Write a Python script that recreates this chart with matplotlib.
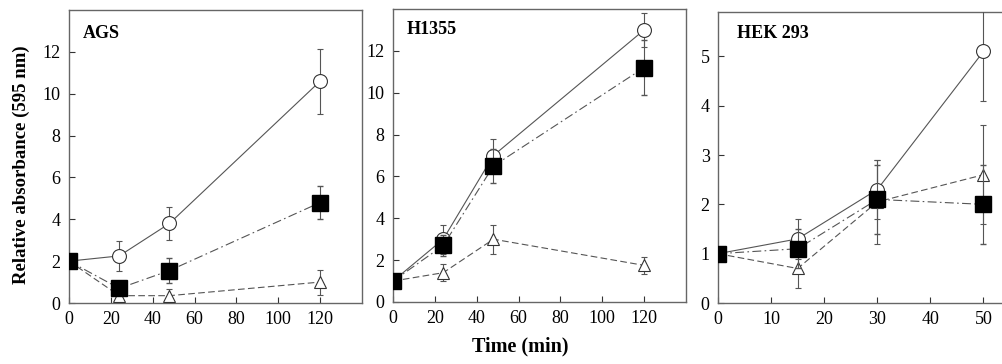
import numpy as np
import matplotlib
matplotlib.use('Agg')
from matplotlib import pyplot as plt

plt.rcParams['font.family'] = ['Liberation Serif', 'DejaVu Serif']

# AGS
ags_t = [0, 24, 48, 120]
ags_circ = [2.0, 2.25, 3.8, 10.6]
ags_circ_err = [0, 0.7, 0.8, 1.55]
ags_sq = [2.0, 0.7, 1.55, 4.8]
ags_sq_err = [0, 0.3, 0.6, 0.8]
ags_tri = [2.0, 0.35, 0.35, 1.0]
ags_tri_err = [0, 0.25, 0.3, 0.6]

# H1355
h_t = [0, 24, 48, 120]
h_circ = [1.0, 3.0, 7.0, 13.0]
h_circ_err = [0, 0.7, 0.8, 0.8]
h_sq = [1.0, 2.7, 6.5, 11.2]
h_sq_err = [0, 0.5, 0.8, 1.3]
h_tri = [1.0, 1.4, 3.0, 1.75]
h_tri_err = [0, 0.4, 0.7, 0.4]

# HEK 293
k_t = [0, 15, 30, 50]
k_circ = [1.0, 1.3, 2.3, 5.1]
k_circ_err = [0, 0.4, 0.6, 1.0]
k_sq = [1.0, 1.1, 2.1, 2.0]
k_sq_err = [0, 0.4, 0.7, 0.8]
k_tri = [1.0, 0.7, 2.05, 2.6]
k_tri_err = [0, 0.4, 0.85, 1.0]

panels = [
    ('AGS', ags_t, ags_circ, ags_circ_err, ags_sq, ags_sq_err, ags_tri, ags_tri_err,
     (0, 140), (0, 14), [0, 20, 40, 60, 80, 100, 120], [0, 2, 4, 6, 8, 10, 12]),
    ('H1355', h_t, h_circ, h_circ_err, h_sq, h_sq_err, h_tri, h_tri_err,
     (0, 140), (0, 14), [0, 20, 40, 60, 80, 100, 120], [0, 2, 4, 6, 8, 10, 12]),
    ('HEK 293', k_t, k_circ, k_circ_err, k_sq, k_sq_err, k_tri, k_tri_err,
     (0, 55), (0, 5.9), [0, 10, 20, 30, 40, 50], [0, 1, 2, 3, 4, 5]),
]

W, H = 1002, 364
fig = plt.figure(figsize=(W / 100, H / 100), dpi=100)

boxes = [(69, 10, 293, 293), (393, 9, 293, 293), (718, 12, 292, 291)]
label_pos = [(83, 33), (407, 29), (737, 33)]
line_col = '#555555'

for (name, t, c, ce, s, se, tr, tre, xl, yl, xt, yt), (x0, y0, w, h), (lx, ly) in zip(panels, boxes, label_pos):
    ax = fig.add_axes([x0 / W, 1 - (y0 + h) / H, w / W, h / H])
    ax.errorbar(t, c, yerr=ce, color=line_col, lw=0.8, ls='-', marker='o', ms=10,
                mfc='white', mec='#333333', mew=0.8, capsize=2.5, elinewidth=0.8, zorder=3)
    ax.errorbar(t, tr, yerr=tre, color=line_col, lw=0.8, ls=(0, (6, 3)), marker='^', ms=9,
                mfc='white', mec='#333333', mew=0.8, capsize=2.5, elinewidth=0.8, zorder=3)
    ax.errorbar(t, s, yerr=se, color=line_col, lw=0.8, ls=(0, (8, 3, 1.5, 3)), marker='s', ms=11,
                mfc='black', mec='black', capsize=2.5, elinewidth=0.8, zorder=4)
    ax.set_xlim(*xl)
    ax.set_ylim(*yl)
    ax.set_xticks(xt)
    ax.set_yticks(yt)
    ax.tick_params(direction='in', labelsize=13, length=4, width=0.8, colors='#333333',
                   labelcolor='black', pad=6)
    for sp in ax.spines.values():
        sp.set_color('#666666')
        sp.set_linewidth(1.0)
    fig.text(lx / W, 1 - ly / H, name, fontsize=13, fontweight='bold',
             ha='left', va='center')

fig.text(21 / W, 1 - 165 / H, 'Relative absorbance (595 nm)', rotation=90, fontsize=13.5,
         fontweight='bold', ha='center', va='center')
fig.text(520 / W, 1 - 346 / H, 'Time (min)', fontsize=14.5, fontweight='bold',
         ha='center', va='center')

plt.savefig('out.png', dpi=100)
